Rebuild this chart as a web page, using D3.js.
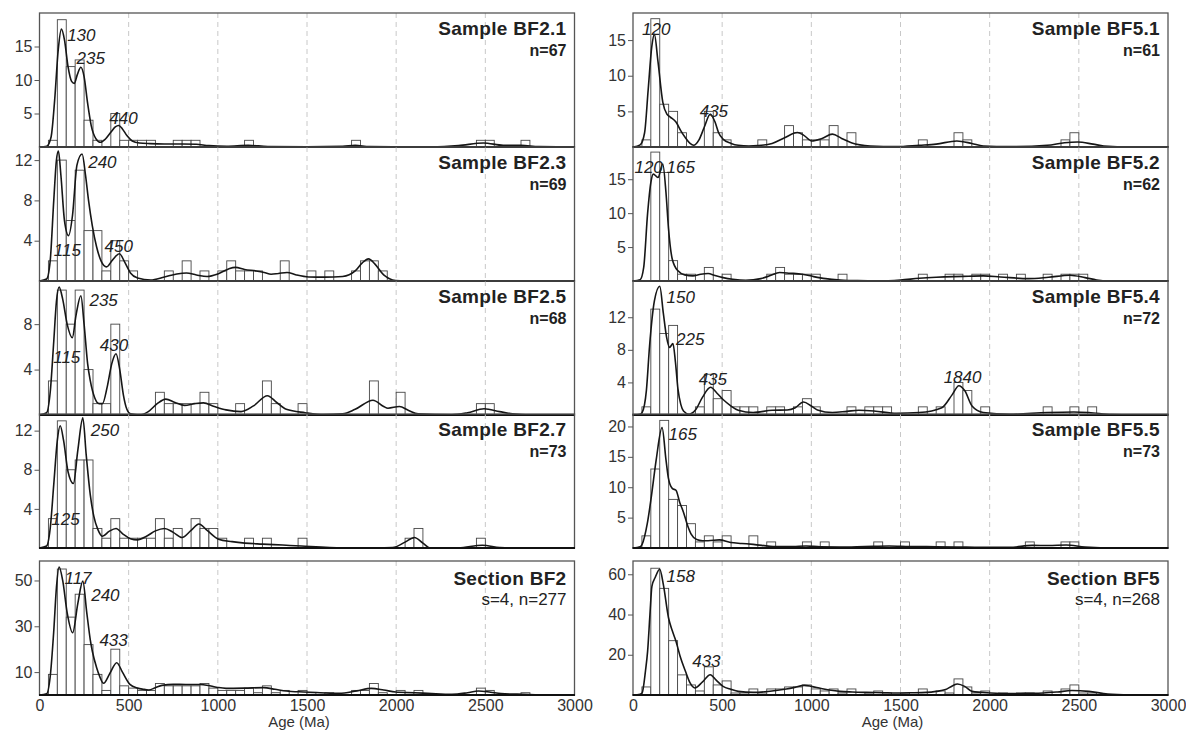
<!DOCTYPE html>
<html><head><meta charset="utf-8">
<script src="https://cdn.jsdelivr.net/npm/d3@7"></script>
<style>body{margin:0;background:#fff}svg{display:block;font-family:"Liberation Sans",Arial,sans-serif}</style>
</head><body>
<svg id="c" width="1186" height="738"></svg>
<script>
// ---------- shared axis data ----------
const binWidth = 50;
const xTickValues = [0, 500, 1000, 1500, 2000, 2500, 3000];
const gridAges = [500, 1000, 1500, 2000, 2500];
const xAxisTitle = "Age (Ma)";

// ---------- panel titles ----------
const panelTitles = ["Sample BF2.1", "Sample BF2.3", "Sample BF2.5", "Sample BF2.7", "Section BF2",
                     "Sample BF5.1", "Sample BF5.2", "Sample BF5.4", "Sample BF5.5", "Section BF5"];
const panelSubtitles = ["n=67", "n=69", "n=68", "n=73", "s=4, n=277",
                        "n=61", "n=62", "n=72", "n=73", "s=4, n=268"];

// ---------- histogram counts (50 Ma bins, index 0 = 0-50 Ma) ----------
const bf21Counts = [0,1,19,12,13,4,1,0,5,1,1,1,1,0,0,1,1,1,0,0,0,0,0,1,0,0,0,0,0,0,0,0,0,0,0,1,0,0,0,0,0,0,0,0,0,0,0,0,0,1,1,0,0,0,1];
const bf23Counts = [0,2,12,6,11,5,5,1,4,2,1,0,0,0,1,0,2,0,1,0,1,2,1,1,1,0,0,2,0,0,1,0,1,0,0,1,2,2,1];
const bf25Counts = [0,3,11,8,11,4,1,1,8,0,0,0,0,2,1,1,1,0,2,1,0,0,1,0,0,3,1,0,0,1,0,0,0,0,0,0,0,3,0,0,2,0,0,0,0,0,0,0,0,1,1];
const bf27Counts = [0,3,13,8,9,9,2,1,3,1,1,1,1,3,1,2,0,3,2,2,1,0,0,1,0,1,0,0,0,1,0,0,0,0,0,0,0,0,0,0,0,1,2,0,0,0,0,0,0,1];
const secBF2Counts = [0,9,55,34,44,22,9,2,20,4,3,2,2,5,4,4,4,4,5,3,2,2,2,3,1,4,1,2,0,2,1,0,1,0,0,2,2,5,1,0,2,1,2,0,0,0,0,0,0,3,2,0,0,0,1];
const bf51Counts = [0,1,18,6,5,2,0,0,5,2,1,0,0,0,1,0,0,3,2,1,1,1,3,0,2,0,0,0,0,0,0,0,1,0,0,0,2,1,0,0,0,0,0,0,0,0,0,0,1,2];
const bf52Counts = [0,0,19,16,3,1,1,0,2,0,1,0,0,0,0,1,2,1,1,1,1,0,0,1,0,0,0,0,0,0,0,0,1,0,0,1,1,0,1,1,0,1,0,1,0,0,1,0,1,1,1];
const bf54Counts = [0,1,13,10,11,0,0,1,5,2,3,1,1,1,0,1,1,0,1,2,1,0,0,0,1,0,1,1,1,0,0,0,1,0,1,0,4,3,0,1,0,0,0,0,0,0,1,0,0,1,0,1];
const bf55Counts = [0,2,13,21,8,7,4,1,2,1,2,0,0,2,0,1,0,0,0,1,0,1,0,0,0,0,0,1,0,0,1,0,0,0,1,0,1,0,0,0,0,0,0,0,1,0,0,0,1,1];
const secBF5Counts = [0,4,63,53,27,10,5,2,14,5,7,1,1,3,1,3,3,4,4,5,3,2,3,1,3,0,1,2,1,0,1,0,3,0,2,1,8,4,1,2,0,1,0,1,1,0,2,0,3,5,1,1];

// ---------- KDE curves: [age Ma, value in count units] ----------
const bf21Kde = [[0,0],[40,0.1],[65,1.5],[85,7],[105,14.5],[123,17.6],[140,16],[160,12],[180,9.8],[195,9.5],[212,10.8],[232,11.9],[250,10.5],[270,6.5],[290,3.2],[315,1.3],[342,0.7],[370,1.2],[400,2.2],[425,3],[444,3.2],[465,2.7],[490,1.7],[520,0.9],[560,0.6],[620,0.5],[700,0.45],[800,0.45],[880,0.4],[950,0.2],[1050,0.12],[1170,0.25],[1280,0.08],[1500,0.03],[1700,0.1],[1770,0.25],[1850,0.05],[2200,0.02],[2350,0.2],[2490,0.6],[2600,0.25],[2700,0.25],[2800,0.05],[3000,0]];
const bf23Kde = [[0,0],[40,0.2],[60,2],[80,8],[95,12],[106,12.9],[120,10.5],[140,6],[163,4.5],[185,6.5],[210,11.5],[239,12.6],[258,10.5],[275,8],[296,5.5],[320,3.4],[345,2],[376,1.4],[410,2.1],[448,2.7],[480,1.8],[510,0.8],[550,0.3],[623,0.1],[700,0.4],[770,0.7],[824,0.8],[880,0.6],[940,0.45],[1000,0.7],[1060,1.2],[1099,1.35],[1150,1.15],[1215,1.0],[1260,0.85],[1299,0.67],[1340,0.75],[1388,0.85],[1440,0.6],[1510,0.4],[1600,0.38],[1700,0.45],[1770,1.0],[1810,1.8],[1845,2.2],[1880,1.7],[1930,0.6],[1997,0.05],[2100,0],[3000,0]];
const bf25Kde = [[0,0],[40,0.2],[60,2],[80,6.5],[95,10],[110,11.26],[130,10.2],[155,8],[184,6.8],[205,8.8],[232,10.5],[250,8],[270,4.5],[285,3.0],[310,1.5],[335,1.0],[353,1.0],[380,2.5],[405,4.5],[429,5.4],[450,4],[470,1.8],[490,0.5],[510,0.1],[560,0],[610,0.3],[660,1.0],[708,1.4],[760,1.1],[813,0.85],[870,1.0],[919,1.07],[980,0.75],[1046,0.45],[1130,0.3],[1200,0.8],[1278,1.7],[1330,1.1],[1384,0.5],[1490,0.2],[1595,0.03],[1700,0.1],[1770,0.5],[1870,1.3],[1930,0.75],[1954,0.6],[2018,0.75],[2070,0.4],[2123,0.1],[2313,0.02],[2400,0.2],[2493,0.55],[2580,0.3],[2652,0.1],[2750,0],[3000,0]];
const bf27Kde = [[0,0],[40,0.2],[60,2],[80,6.5],[100,11],[116,12.5],[135,11],[160,7.8],[190,6.6],[215,10],[243,13.3],[262,9.5],[285,5.4],[305,3.2],[327,1.9],[353,1.2],[390,1.7],[429,2.0],[470,1.4],[510,0.95],[549,0.83],[600,1.2],[650,1.75],[701,2.0],[750,1.6],[799,1.07],[850,1.8],[894,2.46],[940,1.8],[1004,0.9],[1080,0.65],[1151,0.5],[1250,0.4],[1363,0.3],[1468,0.2],[1580,0.1],[1680,0.03],[1891,0],[1980,0.05],[2050,0.6],[2102,1.07],[2150,0.5],[2190,0],[2350,0.02],[2483,0.28],[2580,0.05],[2630,0],[3000,0]];
const secBF2Kde = [[0,0],[40,0.5],[60,8],[80,28],[95,47],[110,55.9],[130,50],[155,36],[186,27.2],[215,40],[243,49.7],[265,36],[285,24],[296,19.2],[320,12],[338,8],[359,5.1],[395,9.5],[433,14.1],[465,10],[507,4.65],[550,3],[581,2.5],[613,2.2],[650,3.2],[687,4.2],[750,4.65],[820,4.6],[898,4.6],[961,3.9],[1000,3.3],[1046,2.9],[1150,3.0],[1257,3.2],[1320,2.5],[1384,1.75],[1480,1.3],[1574,1.0],[1680,0.7],[1780,1.8],[1860,2.9],[1930,2.2],[1997,1.3],[2102,1.0],[2200,0.6],[2313,0.3],[2400,1.0],[2461,1.75],[2530,1.2],[2588,0.6],[2715,0.3],[2850,0.05],[3000,0]];
const bf51Kde = [[0,0],[40,0.3],[65,2],[85,8],[105,14],[120,15.8],[140,12],[167,6.3],[190,4.6],[209,4.2],[241,3.5],[270,2.2],[294,1.3],[320,0.5],[340,0.24],[370,1],[400,2.8],[433,4.6],[460,3.5],[480,2],[505,1.1],[550,0.5],[590,0.24],[650,0.15],[700,0.2],[780,0.5],[850,1.3],[922,2.04],[960,1.6],[1002,0.85],[1060,1.2],[1118,1.8],[1170,1.2],[1224,0.6],[1330,0.15],[1478,0.05],[1605,0.24],[1700,0.4],[1816,0.85],[1900,0.5],[1964,0.15],[2112,0.05],[2323,0.24],[2420,0.6],[2493,0.7],[2580,0.4],[2640,0.15],[2789,0],[3000,0]];
const bf52Kde = [[0,0],[40,0.2],[60,2],[82,10],[100,14.5],[114,15.75],[140,15.25],[167,17.25],[185,13],[199,7.75],[220,3.25],[252,1.5],[290,0.9],[336,0.75],[380,1.0],[421,1.1],[460,0.8],[505,0.5],[560,0.25],[632,0.1],[717,0.35],[770,0.8],[822,1.25],[880,1.15],[949,1.0],[1013,0.65],[1080,0.35],[1161,0.15],[1260,0.05],[1372,0.02],[1500,0.15],[1605,0.4],[1700,0.55],[1795,0.65],[1880,0.7],[1964,0.75],[2060,0.6],[2218,0.35],[2330,0.55],[2450,0.85],[2535,0.5],[2600,0.15],[2662,0],[3000,0]];
const bf54Kde = [[0,0],[40,0.1],[51,0.3],[75,3],[93,8.5],[120,14],[150,15.8],[170,12.5],[188,9.6],[205,8.3],[224,8.76],[238,6.5],[252,3.2],[268,1.3],[283,0.5],[315,0.1],[350,0.6],[390,2.2],[435,3.4],[470,2.7],[505,1.9],[550,1.1],[590,0.58],[674,0.3],[780,0.58],[865,0.62],[910,0.9],[956,1.6],[1000,1.1],[1034,0.62],[1118,0.3],[1200,0.45],[1266,0.58],[1351,0.5],[1478,0.2],[1605,0.3],[1732,0.9],[1790,2.5],[1827,3.6],[1860,3.0],[1901,1.1],[1964,0.3],[2112,0.08],[2323,0.3],[2472,0.37],[2556,0.3],[2683,0.05],[2800,0],[3000,0]];
const bf55Kde = [[0,0],[40,0.2],[51,0.6],[80,4],[104,8.7],[130,14.5],[163,19.8],[185,14.5],[199,11.4],[220,9.8],[241,9.5],[262,7.5],[283,5.9],[305,3.8],[326,2.3],[357,1.4],[390,1.2],[421,1.2],[484,1.33],[548,0.9],[610,0.75],[674,0.6],[801,0.22],[900,0.25],[970,0.33],[1050,0.2],[1161,0.17],[1300,0.25],[1436,0.33],[1550,0.25],[1647,0.22],[1816,0.17],[1950,0.1],[2112,0.1],[2239,0.44],[2330,0.4],[2429,0.5],[2535,0.15],[2704,0],[3000,0]];
const secBF5Kde = [[0,0],[40,0.4],[51,1],[70,12],[82,21.8],[95,40],[106,54],[125,58.5],[150,62.5],[170,55],[199,38.4],[220,32],[241,26.7],[265,19],[294,11.8],[320,6],[347,3.5],[390,6.5],[433,10.1],[465,7.5],[505,4.3],[550,2.8],[590,1.8],[674,1.3],[740,1.6],[801,2.2],[860,3.0],[907,3.8],[960,4.8],[1000,4.3],[1055,3.2],[1100,2.5],[1161,1.8],[1230,1.5],[1309,1.3],[1400,1.15],[1478,1.0],[1560,1.1],[1647,1.3],[1700,1.8],[1753,2.7],[1790,4.5],[1820,5.5],[1860,4.3],[1901,1.8],[2006,1.0],[2112,0.66],[2200,0.8],[2302,1.0],[2380,1.5],[2461,2.2],[2556,1.8],[2662,0.5],[2789,0.1],[2900,0.02],[3000,0]];

// ---------- peak labels: [text, age at label start, value at label middle] ----------
const bf21Peaks = [["130",155,16.8],["235",208,13.3],["440",391,4.4]];
const bf23Peaks = [["240",273,11.8],["115",80,3.1],["450",365,3.5]];
const bf25Peaks = [["235",280,10.1],["115",77,5.1],["430",338,6.2]];
const bf27Peaks = [["250",288,12.1],["125",66,3.0]];
const secBF2Peaks = [["117",140,51],["240",290,43.6],["433",336,24]];
const bf51Peaks = [["120",51,16.6],["435",374,5.0]];
const bf52Peaks = [["120",8,16.85],["165",188,16.85]];
const bf54Peaks = [["150",188,14.5],["225",241,9.4],["435",368,4.4],["1840",1742,4.7]];
const bf55Peaks = [["165",199,18.7]];
const secBF5Peaks = [["158",188,59.1],["433",332,16.8]];

// ---------- y tick values and y-axis maxima ----------
const yTickSets = [[5,10,15],[4,8,12],[4,8],[4,8,12],[10,30,50],
                   [5,10,15],[5,10,15],[4,8,12],[5,10,15,20],[20,40,60]];
const yMaxima = [20, 13.3, 11.8, 13.7, 58.5, 18.8, 19.75, 16.45, 22.05, 66.6];

// ---------- layout ----------
const colX = [39.5, 633];
const plotW = 535;
const rowTop = [13, 147, 281, 414, 561];
const plotH = 134;

const counts = [bf21Counts, bf23Counts, bf25Counts, bf27Counts, secBF2Counts, bf51Counts, bf52Counts, bf54Counts, bf55Counts, secBF5Counts];
const kdes = [bf21Kde, bf23Kde, bf25Kde, bf27Kde, secBF2Kde, bf51Kde, bf52Kde, bf54Kde, bf55Kde, secBF5Kde];
const peaks = [bf21Peaks, bf23Peaks, bf25Peaks, bf27Peaks, secBF2Peaks, bf51Peaks, bf52Peaks, bf54Peaks, bf55Peaks, secBF5Peaks];

const panels = panelTitles.map((t, i) => ({
  title: t, sub: panelSubtitles[i], counts: counts[i], kde: kdes[i], peaks: peaks[i],
  ticks: yTickSets[i], yMax: yMaxima[i], col: Math.floor(i / 5), row: i % 5, section: i % 5 === 4
}));

const svg = d3.select("#c");

panels.forEach((p, idx) => {
  const x0 = colX[p.col], y0 = rowTop[p.row];
  const x = d3.scaleLinear().domain([0, 3000]).range([x0, x0 + plotW]);
  const y = d3.scaleLinear().domain([0, p.yMax]).range([y0 + plotH, y0]);
  const g = svg.append("g");

  const clipId = "clip" + idx;
  svg.append("clipPath").attr("id", clipId).append("rect")
    .attr("x", x0).attr("y", y0).attr("width", plotW).attr("height", plotH);
  const inner = g.append("g").attr("clip-path", `url(#${clipId})`);

  inner.selectAll("line.grid").data(gridAges).join("line")
    .attr("x1", d => x(d)).attr("x2", d => x(d))
    .attr("y1", y0).attr("y2", y0 + plotH)
    .attr("stroke", "#c8c8c8").attr("stroke-width", 1).attr("stroke-dasharray", "5,4");

  const bins = p.counts.map((c, i) => ({ a: i * binWidth, b: (i + 1) * binWidth, c })).filter(d => d.c > 0);
  inner.selectAll("rect.bar").data(bins).join("rect")
    .attr("x", d => x(d.a)).attr("width", d => x(d.b) - x(d.a))
    .attr("y", d => y(d.c)).attr("height", d => y(0) - y(d.c))
    .attr("fill", "#fff").attr("stroke", "#474747").attr("stroke-width", 0.9);

  const line = d3.line().x(d => x(d[0])).y(d => y(d[1])).curve(d3.curveMonotoneX);
  inner.append("path").datum(p.kde).attr("d", line)
    .attr("fill", "none").attr("stroke", "#161616").attr("stroke-width", 1.6);

  g.append("rect").attr("x", x0).attr("y", y0).attr("width", plotW).attr("height", plotH)
    .attr("fill", "none").attr("stroke", "#555").attr("stroke-width", 1.3);
  g.append("line").attr("x1", x0 - 0.5).attr("x2", x0 + plotW + 0.5)
    .attr("y1", y0 + plotH).attr("y2", y0 + plotH)
    .attr("stroke", "#111").attr("stroke-width", 2.2);

  const ya = g.append("g").attr("transform", `translate(${x0},0)`)
    .call(d3.axisLeft(y).tickValues(p.ticks).tickSize(5).tickPadding(2));
  ya.select(".domain").remove();
  ya.selectAll(".tick line").attr("stroke", "#555");
  ya.selectAll(".tick text").attr("font-size", 16).attr("fill", "#333")
    .attr("font-family", '"Liberation Sans",Arial,sans-serif');

  g.selectAll("text.peak").data(p.peaks).join("text")
    .attr("x", d => x(d[1])).attr("y", d => y(d[2]))
    .attr("dy", "0.36em").attr("font-style", "italic").attr("font-size", 17)
    .attr("fill", "#222").text(d => d[0]);

  g.append("text").attr("x", x0 + plotW - 8).attr("y", y0 + (p.section ? 24 : 22))
    .attr("text-anchor", "end").attr("font-weight", "bold").attr("font-size", 19)
    .attr("letter-spacing", 0.3).attr("fill", "#222").text(p.title);
  g.append("text").attr("x", x0 + plotW - 8).attr("y", y0 + (p.section ? 44 : 43))
    .attr("text-anchor", "end").attr("font-weight", p.section ? "normal" : "bold")
    .attr("font-size", p.section ? 17 : 16).attr("fill", "#222").text(p.sub);

  if (p.section) {
    const xa = g.append("g").attr("transform", `translate(0,${y0 + plotH})`)
      .call(d3.axisBottom(x).tickValues(xTickValues).tickSize(0).tickPadding(5).tickFormat(d3.format("d")));
    xa.select(".domain").remove();
    xa.selectAll(".tick text").attr("font-size", 16).attr("fill", "#333")
      .attr("font-family", '"Liberation Sans",Arial,sans-serif');
    g.append("text").attr("x", x0 + plotW / 2 - 8).attr("y", y0 + plotH + 32)
      .attr("text-anchor", "middle").attr("font-size", 15).attr("fill", "#333").text(xAxisTitle);
  }
});
</script>
</body></html>
